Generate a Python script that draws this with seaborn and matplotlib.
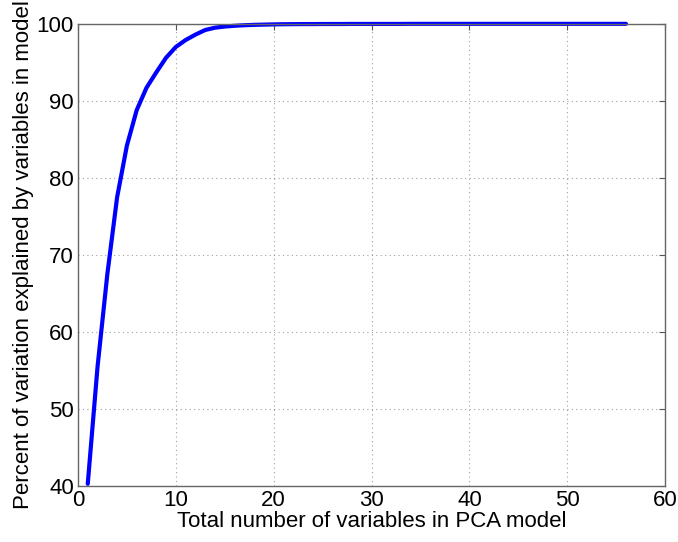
import numpy as np
import pandas as pd
import matplotlib
matplotlib.use("Agg")
import matplotlib.pyplot as plt
import seaborn as sns

n_vars = list(range(1, 57))
pct_explained = [40.3, 55.5, 67.5, 77.5, 84.2, 88.8, 91.7, 93.7, 95.6, 97.0,
                 97.9, 98.6, 99.2, 99.5, 99.65, 99.75, 99.82, 99.87, 99.9, 99.93,
                 99.95, 99.96, 99.97, 99.97, 99.98, 99.98, 99.98, 99.99, 99.99, 99.99,
                 99.99, 99.99, 99.99, 100.0, 100.0, 100.0, 100.0, 100.0, 100.0, 100.0,
                 100.0, 100.0, 100.0, 100.0, 100.0, 100.0, 100.0, 100.0, 100.0, 100.0,
                 100.0, 100.0, 100.0, 100.0, 100.0, 100.0]
x_ticks = [0, 10, 20, 30, 40, 50, 60]
y_ticks = [40, 50, 60, 70, 80, 90, 100]

df = pd.DataFrame({"n": n_vars, "pct": pct_explained})

sns.set_style("white")
plt.rcParams['font.family'] = ['Liberation Sans', 'DejaVu Sans']
plt.rcParams['text.color'] = 'black'
plt.rcParams['axes.labelcolor'] = 'black'
plt.rcParams['xtick.color'] = 'black'
plt.rcParams['ytick.color'] = 'black'

fig = plt.figure(figsize=(6.78, 5.42), dpi=100)
ax = fig.add_axes([0.115, 0.103, 0.866, 0.853])

sns.lineplot(data=df, x="n", y="pct", ax=ax, color="#0000ff", linewidth=3, clip_on=False)

ax.set_xlim(0, 60)
ax.set_ylim(40, 100)
ax.set_xticks(x_ticks)
ax.set_yticks(y_ticks)
ax.grid(True, linestyle=(0, (1, 3)), color="#a0a0a0", linewidth=0.8)
ax.tick_params(direction="in", length=4, labelsize=16, color="#555555",
               labelcolor="black", top=True, right=True)
ax.tick_params(axis="x", pad=3)
ax.tick_params(axis="y", pad=3)
for s in ax.spines.values():
    s.set_color("#666666")
    s.set_linewidth(1.0)
ax.set_xlabel("Total number of variables in PCA model", fontsize=16, labelpad=0, color="black")
ax.set_ylabel("Percent of variation explained by variables in model", fontsize=16, labelpad=2, color="black")

fig.savefig("out.png", dpi=100)
